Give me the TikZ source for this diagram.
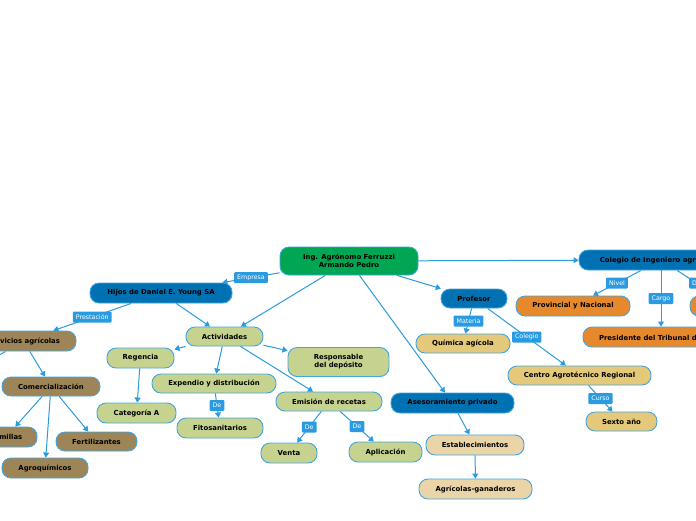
\documentclass[tikz,border=0pt]{standalone}
\usepackage{fontspec}
\setmainfont{DejaVu Sans}
\usetikzlibrary{arrows.meta}
\definecolor{cgreen}{HTML}{00A651}
\definecolor{cblue}{HTML}{0072B3}
\definecolor{clgreen}{HTML}{C6D38E}
\definecolor{cbrown}{HTML}{9E8557}
\definecolor{ctan}{HTML}{E5C97A}
\definecolor{cbeige}{HTML}{EAD5A8}
\definecolor{corange}{HTML}{E6892C}
\definecolor{cborder}{HTML}{41A5E1}
\definecolor{cline}{HTML}{2A9BDE}
\definecolor{clabel}{HTML}{2A9BE0}
\begin{document}
\begin{tikzpicture}[x=1pt,y=-1pt,
  box/.style={draw=cborder, line width=0.9pt, rounded corners=9pt,
    font=\fontsize{6.9}{8}\selectfont\bfseries, align=center, inner sep=0pt, text=black},
  sz/.style 2 args={minimum width=#1pt, minimum height=#2pt},
  lbl/.style={fill=clabel, text=white, font=\fontsize{6.3}{7}\selectfont,
    inner xsep=3pt, inner ysep=2pt, rounded corners=1pt, minimum height=11pt},
  conn/.style={draw=cline, line width=1pt, -{Triangle[length=5pt,width=6pt]}},
  plain/.style={draw=cline, line width=1pt}]
\useasboundingbox (0,0) rectangle (696,520);
\clip (0,0) rectangle (696,520);
% nodes
\node[box, fill=cgreen, sz={138}{28}] (root) at (349,261) {Ing. Agrónomo Ferruzzi\\Armando Pedro};
\node[box, fill=cblue, sz={142}{20}] (hijos) at (161,293) {Hijos de Daniel E. Young SA};
\node[box, fill=clgreen, sz={77}{19}] (act) at (224.5,336.5) {Actividades};
\node[box, fill=clgreen, sz={67}{20}] (reg) at (140.5,358) {Regencia};
\node[box, fill=clgreen, sz={101}{29}] (resp) at (338.5,362) {Responsable\\del depósito};
\node[box, fill=clgreen, sz={124}{19}] (exp) at (214,383.5) {Expendio y distribución};
\node[box, fill=clgreen, sz={106}{19}] (emi) at (329,401.5) {Emisión de recetas};
\node[box, fill=clgreen, sz={79}{20}] (cat) at (136.5,413) {Categoría A};
\node[box, fill=clgreen, sz={86}{20}] (fito) at (220,428) {Fitosanitarios};
\node[box, fill=clgreen, sz={56}{20}] (venta) at (289,453) {Venta};
\node[box, fill=clgreen, sz={73}{20}] (apl) at (385.5,452) {Aplicación};
\node[box, fill=cbrown, sz={105}{20}] (serv) at (23.5,341) {Servicios agrícolas};
\node[box, fill=cbrown, sz={98}{19}] (com) at (51,386.5) {Comercialización};
\node[box, fill=cbrown, sz={62}{20}] (sem) at (6,437) {Semillas};
\node[box, fill=cbrown, sz={81}{19}] (fert) at (96.5,441.5) {Fertilizantes};
\node[box, fill=cbrown, sz={86}{20}] (agro) at (45,468) {Agroquímicos};
\node[box, fill=cblue, sz={66}{19}] (prof) at (474,298.5) {Profesor};
\node[box, fill=ctan, sz={94}{19}] (quim) at (463,343.5) {Química agícola};
\node[box, fill=ctan, sz={143}{19}] (centro) at (579.5,375.5) {Centro Agrotécnico Regional};
\node[box, fill=ctan, sz={71}{19}] (sexto) at (621.5,421.5) {Sexto año};
\node[box, fill=cblue, sz={123}{20}] (ases) at (452.5,403) {Asesoramiento privado};
\node[box, fill=cbeige, sz={98}{20}] (est) at (475,445) {Establecimientos};
\node[box, fill=cbeige, sz={113}{20}] (agri) at (475.5,489) {Agrícolas-ganaderos};
\node[box, fill=cblue, sz={164}{20}] (col) at (661,260) {Colegio de Ingeniero agrónomo};
\node[box, fill=corange, sz={114}{20}] (prov) at (573,306) {Provincial y Nacional};
\node[box, fill=corange, sz={156}{20}] (pres) at (661,337) {Presidente del Tribunal de Ética};
\node[box, fill=corange, sz={84}{20}] (rnode) at (732,306) {};
\coordinate (offl) at (-30,372);
% connectors
\draw[conn] (root) -- node[lbl]{Empresa} (hijos);
\draw[conn] (root) -- (act);
\draw[conn] (root) -- (ases);
\draw[conn] (root) -- (prof);
\draw[conn] (root) -- (col);
\draw[conn] (hijos) -- node[lbl]{Prestación} (serv);
\draw[conn] (hijos) -- (act);
\draw[conn] (serv) -- (com);
\draw[plain] (serv) -- (offl);
\draw[conn] (com) -- (sem);
\draw[conn] (com) -- (agro);
\draw[conn] (com) -- (fert);
\draw[conn] (act) -- (reg);
\draw[conn] (act) -- (exp);
\draw[conn] (act) -- (resp);
\draw[conn] (act) -- (emi);
\draw[conn] (reg) -- (cat);
\draw[conn] (exp) -- node[lbl]{De} (fito);
\draw[conn] (emi) -- node[lbl]{De} (venta);
\draw[conn] (emi) -- node[lbl]{De} (apl);
\draw[conn] (prof) -- node[lbl]{Materia} (quim);
\draw[conn] (prof) -- node[lbl]{Colegio} (centro);
\draw[conn] (centro) -- node[lbl]{Curso} (sexto);
\draw[conn] (ases) -- (est);
\draw[conn] (est) -- (agri);
\draw[conn] (col) -- node[lbl]{Nivel} (prov);
\draw[conn] (col) -- node[lbl]{Cargo} (pres);
\draw[conn] (col) -- node[lbl]{De} (rnode);
\end{tikzpicture}
\end{document}
